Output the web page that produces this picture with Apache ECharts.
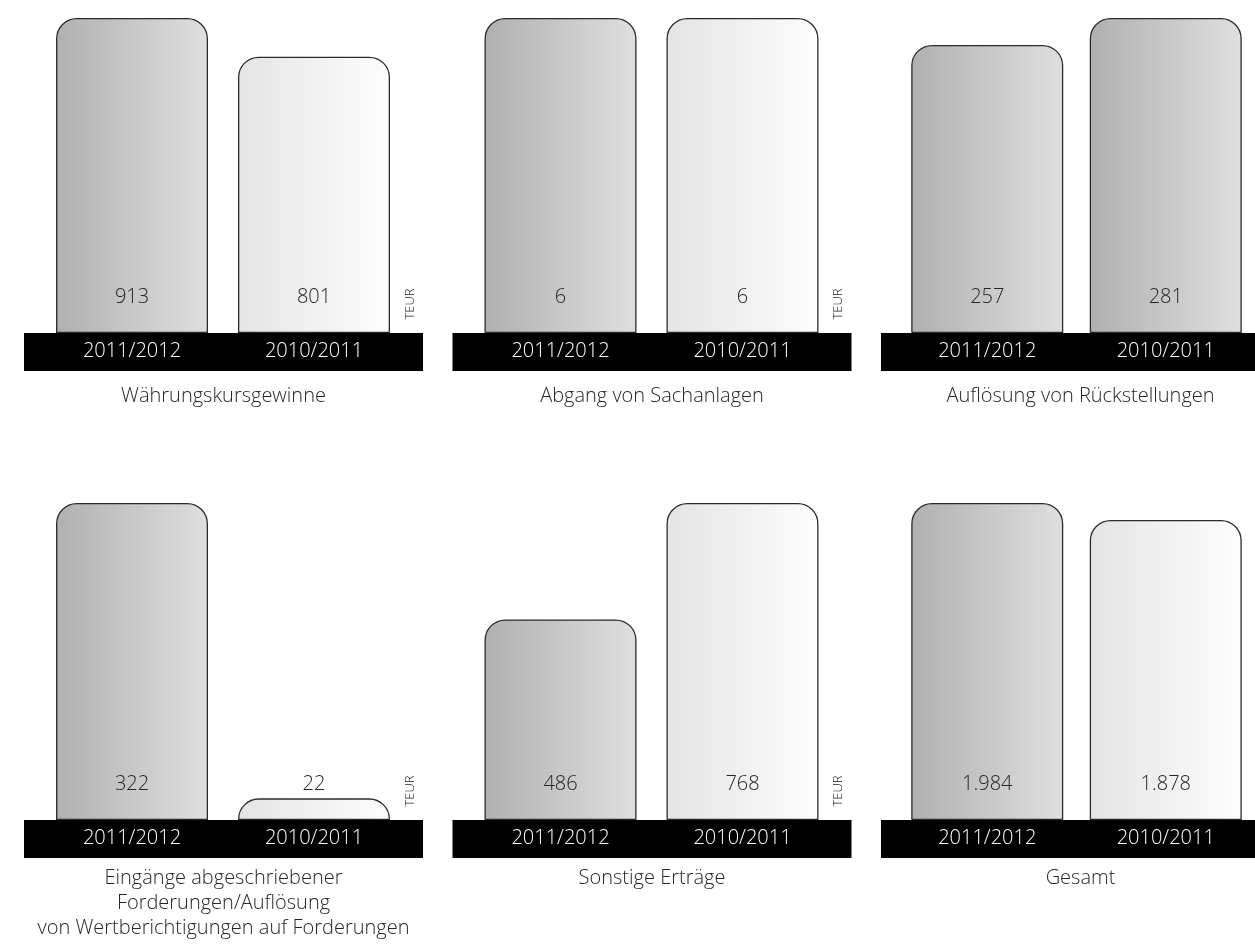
<!DOCTYPE html>
<html>
<head>
<meta charset="utf-8">
<script src="https://cdn.jsdelivr.net/npm/echarts@6/dist/echarts.min.js"></script>
<style>
  html, body { margin: 0; padding: 0; background: #ffffff; }
  #chart { width: 1255px; height: 944px; }
</style>
</head>
<body>
<div id="chart"></div>
<script>
// Sonstige betriebliche Erträge in TEUR, Geschäftsjahr 2011/2012 vs. 2010/2011
const years = ['2011/2012', '2010/2011'];
const titles = [
  'Währungskursgewinne',
  'Abgang von Sachanlagen',
  'Auflösung von Rückstellungen',
  'Eingänge abgeschriebener\nForderungen/Auflösung\nvon Wertberichtigungen auf Forderungen',
  'Sonstige Erträge',
  'Gesamt'
];
const values2012 = [913, 6, 257, 322, 486, 1984];
const values2011 = [801, 6, 281, 22, 768, 1878];
// tone of the 2010/2011 bar per panel ('dark' or 'light')
const tone2011 = ['light', 'light', 'dark', 'light', 'light', 'light'];
const showUnit = [true, true, false, true, true, false];
const unit = 'TEUR';

const FONT = '"Open Sans", "Noto Sans", sans-serif';
const TEXT = '#262626';

const darkFill = {
  type: 'linear', x: 0, y: 0, x2: 1, y2: 0,
  colorStops: [{ offset: 0, color: '#b0b0b0' }, { offset: 1, color: '#dfdfdf' }]
};
const lightFill = {
  type: 'linear', x: 0, y: 0, x2: 1, y2: 0,
  colorStops: [{ offset: 0, color: '#e4e4e4' }, { offset: 1, color: '#fdfdfd' }]
};

function fmt(v) {
  return String(v).replace(/\B(?=(\d{3})+(?!\d))/g, '.');
}

// panel geometry
const PITCH = 428.5;
const BAND_LEFT0 = 24;
const BAND_W = 399;
const BAND_H = 38;
const rows = [
  { top: 18, height: 315, titleY: 384 },
  { top: 503, height: 317, titleY: 866 }
];

const grids = [], xAxes = [], yAxes = [], series = [], graphics = [];

for (let i = 0; i < 6; i++) {
  const col = i % 3;
  const r = rows[Math.floor(i / 3)];
  const bandLeft = BAND_LEFT0 + col * PITCH;
  const bottomY = r.top + r.height;

  grids.push({ left: bandLeft + 17, top: r.top, width: 364, height: r.height });

  xAxes.push({
    type: 'category', gridIndex: i, data: years, z: 10,
    axisLine: { show: false }, axisTick: { show: false },
    axisLabel: { color: '#ffffff', fontSize: 20, fontWeight: 300, fontFamily: FONT, margin: 8 }
  });

  yAxes.push({
    type: 'value', gridIndex: i, min: 0, max: v => v.max,
    show: false, splitLine: { show: false }
  });

  series.push({
    type: 'bar', xAxisIndex: i, yAxisIndex: i,
    barWidth: 152,
    data: [
      { value: values2012[i], itemStyle: { color: darkFill } },
      { value: values2011[i], itemStyle: { color: tone2011[i] === 'dark' ? darkFill : lightFill } }
    ],
    itemStyle: { borderColor: '#2b2b2b', borderWidth: 1.3, borderRadius: [20, 20, 0, 0] },
    label: {
      show: true, position: 'insideBottom', distance: 26,
      fontSize: 20, fontWeight: 300, fontFamily: FONT, color: TEXT,
      formatter: p => fmt(p.value)
    },
    silent: true, animation: false
  });

  // black base band carrying the year labels
  graphics.push({
    type: 'rect', z: 5,
    shape: { x: bandLeft, y: bottomY, width: BAND_W, height: BAND_H },
    style: { fill: '#000000' }
  });

  // panel caption
  graphics.push({
    type: 'text', z: 5,
    x: bandLeft + BAND_W / 2, y: r.titleY,
    style: {
      text: titles[i], fill: TEXT, font: '300 20px ' + FONT,
      textAlign: 'center', textVerticalAlign: 'top', lineHeight: 25
    }
  });

  if (showUnit[i]) {
    graphics.push({
      type: 'text', z: 5,
      x: bandLeft + 386, y: bottomY - 29, rotation: Math.PI / 2,
      style: {
        text: unit, fill: TEXT, font: '300 13px ' + FONT,
        textAlign: 'center', textVerticalAlign: 'middle'
      }
    });
  }
}

const chart = echarts.init(document.getElementById('chart'), null, { renderer: 'canvas' });
chart.setOption({
  backgroundColor: '#ffffff',
  animation: false,
  grid: grids,
  xAxis: xAxes,
  yAxis: yAxes,
  series: series,
  graphic: { elements: graphics }
});
</script>
</body>
</html>
